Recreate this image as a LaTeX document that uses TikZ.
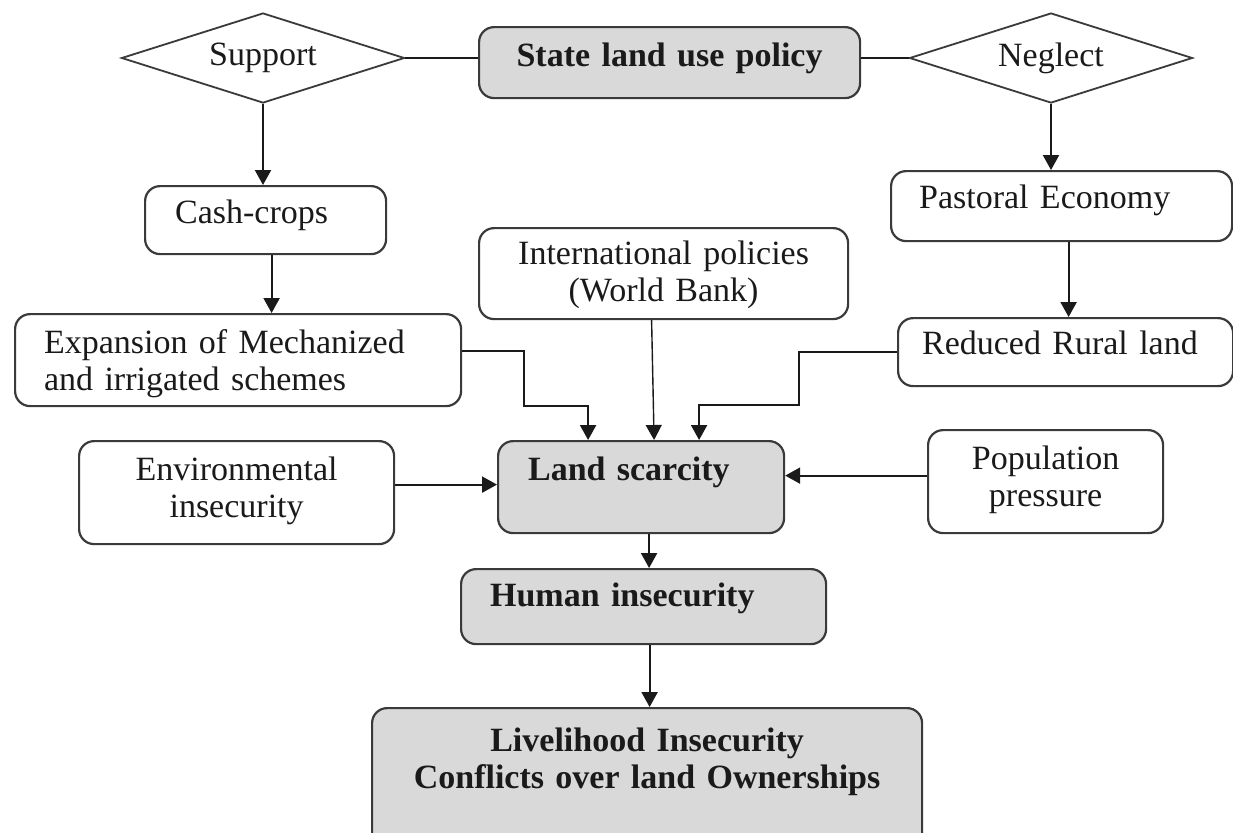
\documentclass[tikz,border=0pt]{standalone}
\usepackage{fontspec}
\setmainfont{Liberation Serif}
\usetikzlibrary{shapes.geometric, arrows.meta}
\definecolor{Ink}{HTML}{1A1A1A}
\definecolor{Edge}{HTML}{3A3A3A}
\definecolor{Shade}{HTML}{D9D9D9}

\begin{document}
\begin{tikzpicture}[
            x=0.5pt, y=-0.5pt,
            choice/.style={
                diamond,
                aspect=3,
                draw=Edge,
                fill=white,
                line width=0.9pt,
                inner sep=0pt,
                minimum width=141.5pt,
                minimum height=45pt,
                font=\fontsize{17}{18.5}\selectfont,
                text=Ink
            },
            panel/.style={
                rectangle,
                draw=Edge,
                fill=white,
                line width=1.1pt,
                rounded corners=7.5pt,
                anchor=north west,
                inner ysep=0pt,
                inner xsep=5pt,
                align=center,
                font=\fontsize{17}{18.5}\selectfont,
                text=Ink
            },
            keypanel/.style={
                panel,
                fill=Shade,
                font=\fontsize{17}{18.5}\selectfont\bfseries
            },
            link/.style={line width=1.1pt, draw=Ink},
            arrow/.style={link, -{Triangle[length=7.5pt, width=8pt]}}
        ]
            \useasboundingbox (0,0) rectangle (1233,832);
            \fill[white] (0,0) rectangle (1233,832);
            \clip (0,0) rectangle (1233,832);

            \node[choice] (support) at (263,58) {Support};
            \node[choice] (neglect) at (1051,58) {Neglect};
            \node[keypanel, text width=180.5pt, text height=19.5pt, text depth=16pt] (state) at (478,26) {State land use policy};

            \node[panel, align=left, inner xsep=15pt, text width=90.5pt, text height=18.5pt, text depth=15.5pt] (cash) at (144,185) {Cash-crops};
            \node[panel, align=left, inner xsep=14pt, text width=142.5pt, text height=18.5pt, text depth=16.5pt] (pastoral) at (890,170) {Pastoral Economy};
            \node[panel, text width=174.5pt, text height=18pt, text depth=27.5pt] (intl) at (478,227) {International policies\\(World Bank)};
            \node[panel, align=left, inner xsep=14.5pt, text width=194pt, text height=19.5pt, text depth=26.5pt] (expansion) at (14,313) {Expansion of Mechanized\\and irrigated schemes};
            \node[panel, align=left, inner xsep=12pt, text width=143.5pt, text height=18pt, text depth=16pt] (reduced) at (897,317) {Reduced Rural land};

            \node[panel, text width=147.5pt, text height=19.5pt, text depth=32pt] (env) at (78,440) {Environmental\\insecurity};
            \node[keypanel, align=left, inner xsep=15pt, text width=113pt, text height=19.5pt, text depth=26.5pt] (land) at (497,440) {Land scarcity};
            \node[panel, text width=107.5pt, text height=19.5pt, text depth=32pt] (pop) at (927,429) {Population\\pressure};
            \node[keypanel, align=left, inner xsep=14.5pt, text width=153.5pt, text height=18.5pt, text depth=19pt] (human) at (460,568) {Human insecurity};
            \node[keypanel, text width=265pt, text height=21.5pt, text depth=55pt] (live) at (371,707) {Livelihood Insecurity\\Conflicts over land Ownerships};

            % Policy row
            \draw[link] (support.east) -- (support.east -| state.west);
            \draw[link] (neglect.west -| state.east) -- (neglect.west);

            % Left and right branches
            \draw[arrow] (support.south) -- (support.south |- cash.north);
            \coordinate (cashout) at ([xshift=3pt]cash.south);
            \draw[arrow] (cashout) -- (cashout |- expansion.north);
            \draw[arrow] (neglect.south) -- (neglect.south |- pastoral.north);
            \coordinate (pastout) at ([xshift=3.5pt]pastoral.south);
            \draw[arrow] (pastout) -- (pastout |- reduced.north);

            % Into land scarcity
            \coordinate (expout) at ([yshift=4.5pt]expansion.east);
            \coordinate (expkink) at (524,406);
            \coordinate (expin) at ([xshift=-26.5pt]land.north);
            \draw[arrow] (expout) -| (expkink) -| (expin);
            \coordinate (intlout) at ([xshift=-6pt]intl.south);
            \coordinate (intlin) at ([xshift=6.5pt]land.north);
            \draw[arrow, line width=0.7pt] (intlout) -- (intlin);
            \coordinate (redkink) at (799,405);
            \coordinate (redin) at ([xshift=29pt]land.north);
            \draw[arrow] (reduced.west) -| (redkink) -| (redin);
            \coordinate (envout) at ([yshift=4pt]env.east);
            \draw[arrow] (envout) -- (envout -| land.west);
            \coordinate (popout) at ([yshift=3pt]pop.west);
            \draw[arrow] (popout) -- (popout -| land.east);

            % Down to the outcome
            \coordinate (landout) at ([xshift=4pt]land.south);
            \draw[arrow] (landout) -- (landout |- human.north);
            \coordinate (humout) at ([xshift=3pt]human.south);
            \draw[arrow] (humout) -- (humout |- live.north);
        \end{tikzpicture}
\end{document}
